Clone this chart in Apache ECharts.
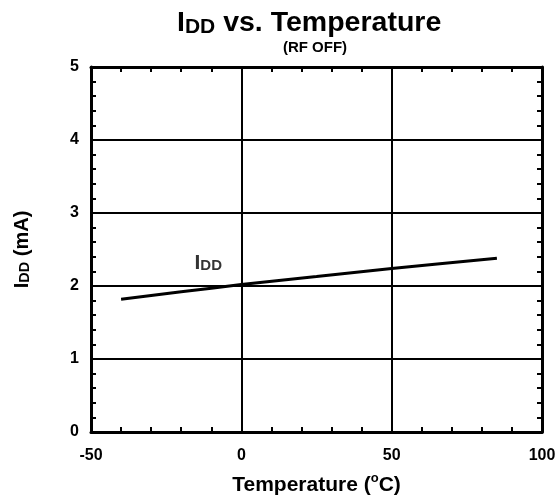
<!DOCTYPE html>
<html>
<head>
<meta charset="utf-8">
<title>IDD vs. Temperature</title>
<script src="https://cdn.jsdelivr.net/npm/echarts@6/dist/echarts.min.js"></script>
<style>
  html, body { margin: 0; padding: 0; background: #fff; }
  #chart { width: 556px; height: 498px; }
</style>
</head>
<body>
<div id="chart"></div>
<script>
// Supply current vs. temperature, RF off
var temperatures = [-40, -20, 0, 25, 50, 85];
var iddValues = [1.82, 1.92, 2.02, 2.13, 2.24, 2.38];

var xTicks = { min: -50, max: 100, interval: 50 };
var yTicks = { min: 0, max: 5, interval: 1 };

// Position of the in-plot series label, in data units
var seriesLabelAt = [-11, 2.32];

var FONT = '"Liberation Sans", Arial, sans-serif';

var chart = echarts.init(document.getElementById('chart'), null, { renderer: 'canvas' });

function richStyle(size, lineHeight, extra) {
  var s = { fontSize: size, fontWeight: 'bold', fontFamily: FONT, color: '#000', verticalAlign: 'bottom', lineHeight: lineHeight };
  if (extra) { for (var k in extra) { s[k] = extra[k]; } }
  return s;
}

function frameAxis(pos, range) {
  return {
    type: 'value',
    position: pos,
    min: range.min,
    max: range.max,
    interval: range.interval,
    axisLine: { show: true, onZero: false, lineStyle: { color: '#000', width: 3 } },
    axisTick: { show: true, inside: true, length: 5, lineStyle: { color: '#000', width: 2 } },
    minorTick: { show: true, splitNumber: 5, length: 5, lineStyle: { color: '#000', width: 2 } },
    axisLabel: { show: false },
    splitLine: { show: false }
  };
}

var option = {
  backgroundColor: '#fff',
  animation: false,
  graphic: [
    {
      type: 'text',
      left: 177,
      top: 9,
      style: {
        text: '{a|I}{b|DD}{a| vs. Temperature}',
        rich: {
          a: richStyle(28.5, 30),
          b: richStyle(21, 30)
        }
      }
    },
    {
      type: 'text',
      x: 315,
      y: 40,
      style: {
        text: '(RF OFF)',
        align: 'center',
        verticalAlign: 'top',
        font: 'bold 15px ' + FONT,
        fill: '#000'
      }
    }
  ],
  grid: { left: 91, right: 14, top: 67, bottom: 66, containLabel: false, outerBoundsMode: 'none' },
  xAxis: [
    {
      type: 'value',
      position: 'bottom',
      min: xTicks.min,
      max: xTicks.max,
      interval: xTicks.interval,
      name: '{a|Temperature (}{s|o}{a|C)}',
      nameLocation: 'middle',
      nameGap: 40,
      nameTextStyle: {
        rich: {
          a: richStyle(21, 24),
          s: richStyle(13, 24, { verticalAlign: 'top', padding: [0, 0, 8, 0] })
        }
      },
      axisLine: { show: true, onZero: false, lineStyle: { color: '#000', width: 3 } },
      axisTick: { show: true, inside: true, length: 5, lineStyle: { color: '#000', width: 2 } },
      minorTick: { show: true, splitNumber: 5, length: 5, lineStyle: { color: '#000', width: 2 } },
      axisLabel: { color: '#000', fontFamily: FONT, fontWeight: 'bold', fontSize: 16, margin: 16 },
      splitLine: { show: true, lineStyle: { color: '#000', width: 2 } }
    },
    frameAxis('top', xTicks)
  ],
  yAxis: [
    {
      type: 'value',
      position: 'left',
      min: yTicks.min,
      max: yTicks.max,
      interval: yTicks.interval,
      name: '{a|I}{b|DD}{a| (mA)}',
      nameLocation: 'middle',
      nameRotate: 90,
      nameGap: 59,
      nameTextStyle: {
        rich: {
          a: richStyle(20, 24),
          b: richStyle(14.5, 24)
        }
      },
      axisLine: { show: true, onZero: false, lineStyle: { color: '#000', width: 3 } },
      axisTick: { show: true, inside: true, length: 5, lineStyle: { color: '#000', width: 2 } },
      minorTick: { show: true, splitNumber: 5, length: 5, lineStyle: { color: '#000', width: 2 } },
      axisLabel: { color: '#000', fontFamily: FONT, fontWeight: 'bold', fontSize: 16, margin: 12 },
      splitLine: { show: true, lineStyle: { color: '#000', width: 2 } }
    },
    frameAxis('right', yTicks)
  ],
  series: [
    {
      name: 'IDD',
      type: 'line',
      xAxisIndex: 0,
      yAxisIndex: 0,
      data: temperatures.map(function (t, i) { return [t, iddValues[i]]; }),
      showSymbol: false,
      symbol: 'none',
      smooth: 0.3,
      lineStyle: { color: '#000', width: 3 },
      z: 5
    },
    {
      name: 'IDD label',
      type: 'scatter',
      xAxisIndex: 0,
      yAxisIndex: 0,
      data: [seriesLabelAt],
      symbolSize: 0,
      silent: true,
      label: {
        show: true,
        position: 'inside',
        formatter: '{a|I}{b|DD}',
        rich: {
          a: richStyle(21, 22),
          b: richStyle(15, 22)
        }
      }
    }
  ]
};

chart.setOption(option);
</script>
</body>
</html>
